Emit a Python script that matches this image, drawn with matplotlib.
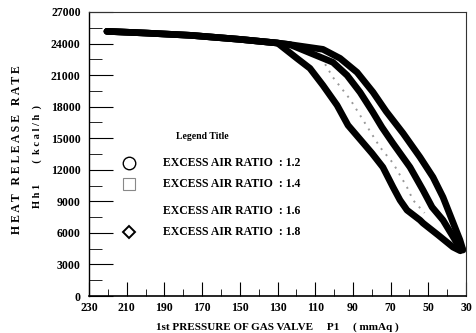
import matplotlib
matplotlib.use('Agg')
import matplotlib.pyplot as plt
from matplotlib.ticker import MultipleLocator

plt.rcParams['font.family'] = ['Liberation Serif', 'DejaVu Serif']
plt.rcParams['font.weight'] = 'bold'

# 1st pressure of gas valve P1 (mmAq) vs heat release rate Hh1 (kcal/h)
p1_12 = [220.5, 200, 176, 150, 130, 123.4, 105.9, 96.8, 87.8, 79.3, 72.4, 63.4, 54.4, 47.5, 42.2, 40.1, 33.2, 31.6]
hr_12 = [25160, 25000, 24780, 24400, 24050, 23900, 23450, 22595, 21266, 19368, 17560, 15475, 13197, 11298, 9399, 8450, 5320, 4370]

p1_14 = [220.5, 200, 176, 150, 130, 123.4, 107.5, 100.6, 91.5, 75.6, 68.7, 61.3, 58.1, 52.0]
hr_14 = [25160, 25000, 24780, 24400, 24050, 23850, 22880, 20792, 18703, 14146, 12627, 10348, 9114, 7900]

p1_16 = [220.5, 200, 176, 150, 130, 123.4, 100.6, 93.1, 86.2, 79.5, 74.6, 68.8, 59.7, 52.8, 48.0, 42.2, 34.8, 32.1]
hr_16 = [25160, 25000, 24780, 24400, 24050, 23900, 22216, 20982, 19368, 17500, 16045, 14526, 12247, 10064, 8450, 7215, 5032, 4557]

p1_18 = [220.5, 200, 176, 150, 130, 119.7, 112.8, 105.9, 98.4, 92.6, 79.9, 74.1, 68.7, 65.0, 61.3, 54.4, 52.8, 44.8, 36.9, 33]
hr_18 = [25160, 25000, 24780, 24400, 24050, 22596, 21646, 20033, 18133, 16235, 13576, 12247, 10348, 9114, 8165, 7215, 6930, 5800, 4650, 4300]

legend_labels = ['EXCESS AIR RATIO  : 1.2', 'EXCESS AIR RATIO  : 1.4',
                 'EXCESS AIR RATIO  : 1.6', 'EXCESS AIR RATIO  : 1.8']
legend_markers = ['o', 's', None, 'D']

fig = plt.figure(figsize=(4.76, 3.33), dpi=100)
ax = fig.add_axes([0.187, 0.111, 0.792, 0.853])

# gray dotted series first so the black bands cover the shared part
ax.plot(p1_14, hr_14, color='#999999', lw=1.4, ls=(0, (1, 3)), zorder=1)
for xs, ys in [(p1_12, hr_12), (p1_16, hr_16), (p1_18, hr_18)]:
    ax.plot(xs, ys, color='black', lw=4.8, solid_capstyle='round',
            solid_joinstyle='round', zorder=2)

ax.set_xlim(230, 30)
ax.set_ylim(0, 27000)
ax.xaxis.set_major_locator(MultipleLocator(20, offset=10))
ax.xaxis.set_minor_locator(MultipleLocator(10))
ax.yaxis.set_major_locator(MultipleLocator(3000))
ax.yaxis.set_minor_locator(MultipleLocator(1500))
ax.tick_params(axis='both', which='major', direction='in', labelsize=8.5)
ax.tick_params(axis='y', which='major', length=17, width=0.8, pad=6)
ax.tick_params(axis='y', which='minor', direction='in', length=9, width=0.6)
ax.tick_params(axis='x', which='major', length=10, width=0.8, pad=4)
ax.tick_params(axis='x', which='minor', direction='in', length=5, width=0.6)
for lab in ax.get_xticklabels() + ax.get_yticklabels():
    lab.set_fontweight('bold')

ax.spines['left'].set_linewidth(1.0)
ax.spines['bottom'].set_linewidth(1.2)
for s in ['top', 'right']:
    ax.spines[s].set_linewidth(0.8)
    ax.spines[s].set_linestyle((0, (2, 1)))
    ax.spines[s].set_color('#333333')

ax.set_xlabel('1st PRESSURE OF GAS VALVE     P1     ( mmAq )', fontsize=8,
              fontweight='bold', labelpad=6)
fig.text(0.036, 0.55, 'H E A T   R E L E A S E   R A T E', rotation=90,
         fontsize=8.5, fontweight='bold', ha='center', va='center')
fig.text(0.078, 0.53, 'H h 1        (  k c a l / h  )', rotation=90,
         fontsize=7.5, fontweight='bold', ha='center', va='center')

# legend
ax.text(0.30, 0.56, 'Legend Title', transform=ax.transAxes, fontsize=7,
        fontweight='bold', ha='center', va='center')
leg_y = [0.468, 0.394, 0.299, 0.225]
for lab, mk, yy in zip(legend_labels, legend_markers, leg_y):
    if mk == 's':
        ax.plot([0.106], [yy], marker='s', ms=8, mfc='none', mec='#888888',
                mew=0.8, ls='none', transform=ax.transAxes)
    elif mk == 'D':
        ax.plot([0.106], [yy], marker='D', ms=6.5, mfc='none', mec='black',
                mew=1.4, ls='none', transform=ax.transAxes)
    elif mk == 'o':
        ax.plot([0.106], [yy], marker='o', ms=9, mfc='none', mec='black',
                mew=1.0, ls='none', transform=ax.transAxes)
    ax.text(0.196, yy, lab, transform=ax.transAxes, fontsize=8.5,
            fontweight='bold', ha='left', va='center')

fig.savefig('out.png', dpi=100)
